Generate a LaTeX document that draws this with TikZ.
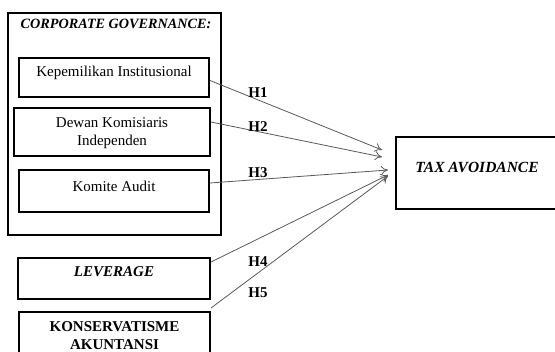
\documentclass[tikz,border=0pt]{standalone}
\usepackage{fontspec}
\setmainfont{Liberation Serif}
\usetikzlibrary{arrows.meta}

\tikzset{
  box/.style={draw, line width=2pt, inner sep=0pt},
  txt/.style={align=center, font=\fontsize{15}{18}\selectfont},
  hyp/.style={font=\fontsize{15}{18}\selectfont\bfseries},
  link/.style={draw=black!65, line width=0.8pt, -{To[length=7pt,width=9pt]}}
}

\begin{document}
\begin{tikzpicture}[x=1pt, y=-1pt]
    \useasboundingbox (0,0) rectangle (555,352);
    \clip (0,0) rectangle (555,352);
    % corporate governance group
    \node (cg) at (114.5,124) [box, minimum width=213pt, minimum height=222pt] {};
    \node (cgt) at (116,24) [txt, font=\fontsize{14.2}{17}\selectfont] {\textbf{\textit{CORPORATE GOVERNANCE:}}};
    \node (kep) at (114,77.5) [box, minimum width=190pt, minimum height=39pt] {};
    \node (kept) at (114,73) [txt] {Kepemilikan Institusional};
    \node (dew) at (112,132) [box, minimum width=196pt, minimum height=48pt] {};
    \node (dewt) at (112,133.5) [txt] {Dewan Komisiaris\\Independen};
    \node (kom) at (114,191) [box, minimum width=190pt, minimum height=42pt] {};
    \node (komt) at (114,186) [txt] {Komite Audit};
    % other variables
    \node (lev) at (114,278.5) [box, minimum width=192pt, minimum height=41pt] {};
    \node (levt) at (114,272) [txt] {\textbf{\textit{LEVERAGE}}};
    \node (kon) at (114.5,337) [box, minimum width=191pt, minimum height=50pt] {};
    \node (kont) at (114.5,336) [txt] {\textbf{KONSERVATISME}\\\textbf{AKUNTANSI}};
    \node (tax) at (488,173) [box, minimum width=184pt, minimum height=72pt] {};
    \node (taxt) at (477,167) [txt, font=\fontsize{15.5}{18}\selectfont] {\textbf{\textit{TAX AVOIDANCE}}};
    % arrow ends
    \coordinate (e1) at ([xshift=-13pt, yshift=23pt]tax.west);
    \coordinate (e2) at ([xshift=-13pt, yshift=16pt]tax.west);
    \coordinate (e3) at ([xshift=-7pt, yshift=3pt]tax.west);
    \coordinate (e4) at ([xshift=-7pt, yshift=-2pt]tax.west);
    \coordinate (e5) at ([xshift=-7pt, yshift=-3pt]tax.west);
    \draw[link] ([yshift=-3pt]kep.east) -- (e1);
    \draw[link] ([yshift=10pt]dew.east) -- (e2);
    \draw[link] ([yshift=8pt]kom.east) -- (e3);
    \draw[link] ([yshift=-5pt]lev.north east) -- (e4);
    \draw[link] ([yshift=3pt]kon.north east) -- (e5);
    % hypotheses
    \node (h1) at (258,93) [hyp] {H1};
    \node (h2) at (258,127) [hyp] {H2};
    \node (h3) at (258,173) [hyp] {H3};
    \node (h4) at (258,262) [hyp] {H4};
    \node (h5) at (258,293) [hyp] {H5};
\end{tikzpicture}
\end{document}
